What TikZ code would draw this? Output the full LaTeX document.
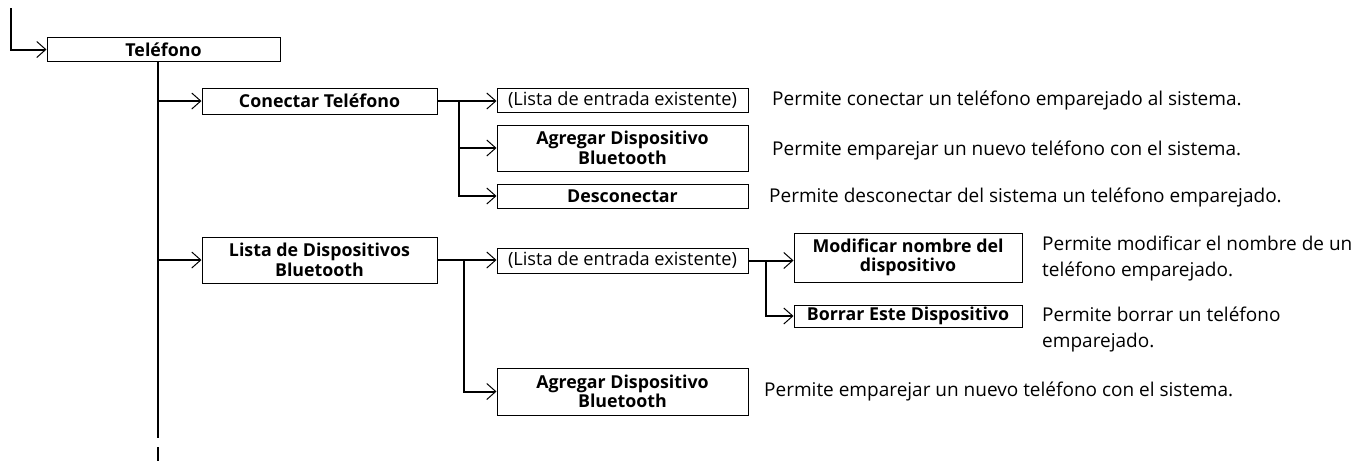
\documentclass[tikz,border=0pt]{standalone}
\usepackage{fontspec}
\setmainfont{Open Sans}
\usetikzlibrary{arrows.meta}
\begin{document}
\begin{tikzpicture}[x=1pt,y=-1pt,
  box/.style={draw, line width=1pt, inner sep=0pt, align=center,
    font=\bfseries\fontsize{17.8}{19.5}\selectfont},
  boxreg/.style={box, font=\fontsize{18.2}{20}\selectfont},
  desc/.style={anchor=west, inner sep=0pt, align=left,
    font=\fontsize{19}{26}\selectfont},
  trunk/.style={line width=2pt},
  conn/.style={line width=2pt, -{Straight Barb[length=9pt,width=16pt,line width=1pt]}}
]
\useasboundingbox (0,0) rectangle (1359,461);
% boxes
\node[box, minimum width=233pt, minimum height=24pt] (tel) at (163.5,49.5) {Teléfono};
\node[box, minimum width=235pt, minimum height=26pt] (con) at (319.5,101) {Conectar Teléfono};
\node[boxreg, minimum width=251pt, minimum height=24pt] (l1) at (622.5,100) {(Lista de entrada existente)};
\node[box, minimum width=251pt, minimum height=46pt] (ag1) at (622.5,148) {Agregar Dispositivo\\Bluetooth};
\node[box, minimum width=251pt, minimum height=24pt] (des) at (622.5,196) {Desconectar};
\node[box, minimum width=235pt, minimum height=46pt] (ld) at (319.5,260) {Lista de Dispositivos\\Bluetooth};
\node[boxreg, minimum width=251pt, minimum height=25pt] (l2) at (622.5,260.5) {(Lista de entrada existente)};
\node[box, minimum width=228pt, minimum height=49pt] (mod) at (908,257.5) {Modificar nombre del\\dispositivo};
\node[box, minimum width=228pt, minimum height=22pt] (bor) at (908,316) {Borrar Este Dispositivo};
\node[box, minimum width=251pt, minimum height=47pt] (ag2) at (622.5,391.5) {Agregar Dispositivo\\Bluetooth};
% descriptions
\node[desc] (d1) at (772,101) {Permite conectar un teléfono emparejado al sistema.};
\node[desc] (d2) at (772,150) {Permite emparejar un nuevo teléfono con el sistema.};
\node[desc] (d3) at (769,197) {Permite desconectar del sistema un teléfono emparejado.};
\node[desc] (d4) at (1042,259) {Permite modificar el nombre de un\\teléfono emparejado.};
\node[desc] (d5) at (1042,329) {Permite borrar un teléfono\\emparejado.};
\node[desc] (d6) at (764,391) {Permite emparejar un nuevo teléfono con el sistema.};
% coordinates
\coordinate (c0) at (11,8);
\coordinate (t0) at (158,61.5);
\coordinate (t1) at (158,438);
\coordinate (t2) at (158,447);
\coordinate (t3) at (158,461);
\coordinate (j1) at (459,101);
\coordinate (j2) at (464,260);
\coordinate (j3) at (766,260);
% connectors
\draw[conn] (c0) |- (tel.west);
\draw[trunk] (t0) -- (t1);
\draw[trunk] (t2) -- (t3);
\draw[conn] (t0 |- con.west) -- (con.west);
\draw[conn] (t0 |- ld.west) -- (ld.west);
\draw[conn] (con.east) -- (l1.west |- con.east);
\draw[conn] (j1) |- (ag1.west);
\draw[conn] (j1) |- (des.west);
\draw[conn] (ld.east) -- (l2.west |- ld.east);
\draw[conn] (j2) |- (ag2.west);
\draw[conn] (l2.east) -- (mod.west |- l2.east);
\draw[conn] (j3) |- (bor.west);
\end{tikzpicture}
\end{document}
